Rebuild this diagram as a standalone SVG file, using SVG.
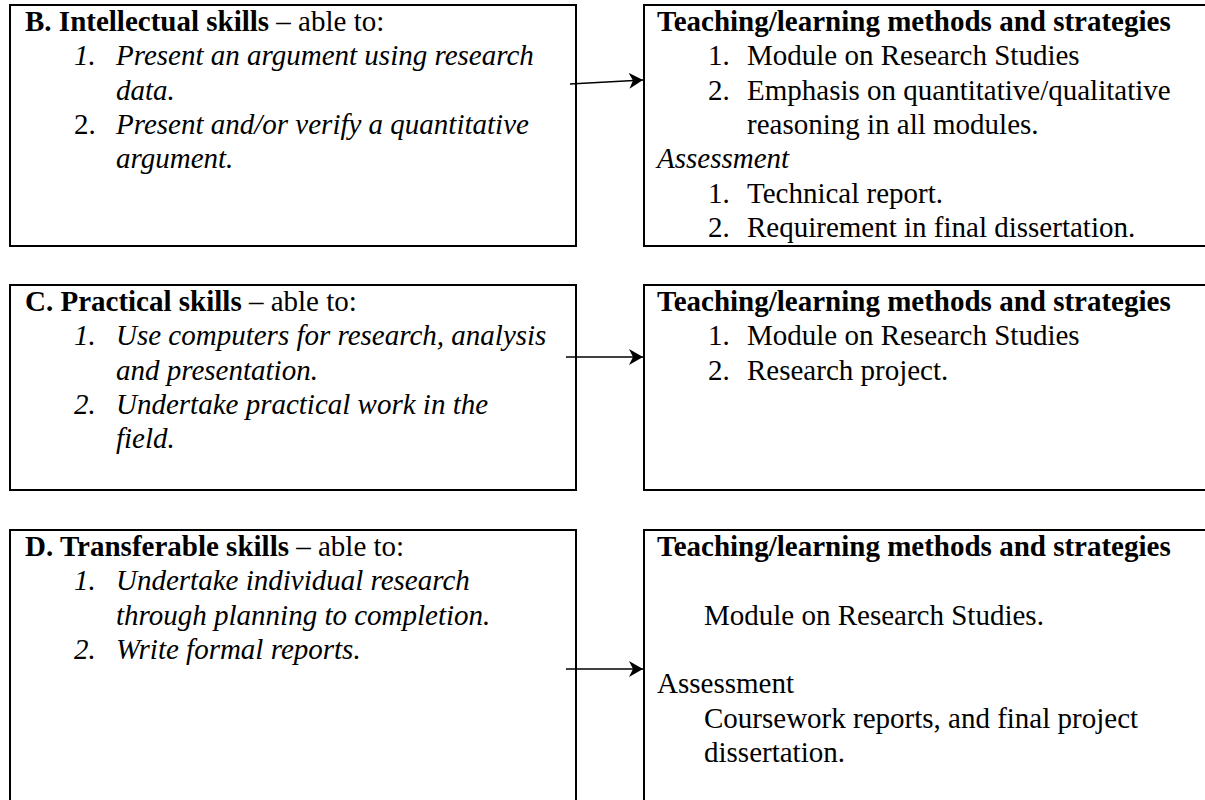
<svg xmlns="http://www.w3.org/2000/svg" width="1205" height="800" viewBox="0 0 1205 800">
<style>
  .box { fill: #ffffff; stroke: #000000; stroke-width: 2; }
  text { font-family: "Liberation Serif", "Times New Roman", serif; font-size: 29px; fill: #000000; }
  .b { font-weight: bold; }
  .i { font-style: italic; }
  .conn { stroke: #000000; stroke-width: 1.6; fill: none; }
</style>
<defs>
  <marker id="arrow" viewBox="0 0 14 16" refX="14" refY="8" markerWidth="14" markerHeight="16" markerUnits="userSpaceOnUse" orient="auto">
    <path d="M0,0 L14,8 L0,16 L4,8 Z" fill="#000000"/>
  </marker>
</defs>
<rect width="1205" height="800" fill="#ffffff"/>

<g id="nodeB">
  <rect class="box" x="10" y="5" width="566" height="241"/>
  <text x="25" y="31"><tspan class="b">B. Intellectual skills</tspan> – able to:</text>
  <text x="74" y="65.3" class="i">1.</text>
  <text x="116" y="65.3" class="i">Present an argument using research</text>
  <text x="116" y="99.6" class="i">data.</text>
  <text x="74" y="133.9">2.</text>
  <text x="116" y="133.9" class="i">Present and/or verify a quantitative</text>
  <text x="116" y="168.2" class="i">argument.</text>
</g>

<g id="nodeB2">
  <rect class="box" x="644" y="5" width="580" height="241"/>
  <text x="657" y="31" class="b">Teaching/learning methods and strategies</text>
  <text x="708" y="65.3">1.</text>
  <text x="747" y="65.3">Module on Research Studies</text>
  <text x="708" y="99.6">2.</text>
  <text x="747" y="99.6">Emphasis on quantitative/qualitative</text>
  <text x="747" y="133.9">reasoning in all modules.</text>
  <text x="657" y="168.2" class="i">Assessment</text>
  <text x="708" y="202.5">1.</text>
  <text x="747" y="202.5">Technical report.</text>
  <text x="708" y="236.8">2.</text>
  <text x="747" y="236.8">Requirement in final dissertation.</text>
</g>

<g id="nodeC">
  <rect class="box" x="10" y="285" width="566" height="205"/>
  <text x="25" y="311"><tspan class="b">C. Practical skills</tspan> – able to:</text>
  <text x="74" y="345.3" class="i">1.</text>
  <text x="116" y="345.3" class="i">Use computers for research, analysis</text>
  <text x="116" y="379.6" class="i">and presentation.</text>
  <text x="74" y="413.9" class="i">2.</text>
  <text x="116" y="413.9" class="i">Undertake practical work in the</text>
  <text x="116" y="448.2" class="i">field.</text>
</g>

<g id="nodeC2">
  <rect class="box" x="644" y="285" width="580" height="205"/>
  <text x="657" y="311" class="b">Teaching/learning methods and strategies</text>
  <text x="708" y="345.3">1.</text>
  <text x="747" y="345.3">Module on Research Studies</text>
  <text x="708" y="379.6">2.</text>
  <text x="747" y="379.6">Research project.</text>
</g>

<g id="nodeD">
  <rect class="box" x="10" y="530" width="566" height="290"/>
  <text x="25" y="556"><tspan class="b">D. Transferable skills</tspan> – able to:</text>
  <text x="74" y="590.3" class="i">1.</text>
  <text x="116" y="590.3" class="i">Undertake individual research</text>
  <text x="116" y="624.6" class="i">through planning to completion.</text>
  <text x="74" y="658.9" class="i">2.</text>
  <text x="116" y="658.9" class="i">Write formal reports.</text>
</g>

<g id="nodeD2">
  <rect class="box" x="644" y="530" width="580" height="290"/>
  <text x="657" y="556" class="b">Teaching/learning methods and strategies</text>
  <text x="704" y="624.6">Module on Research Studies.</text>
  <text x="657" y="693.2">Assessment</text>
  <text x="704" y="727.5">Coursework reports, and final project</text>
  <text x="704" y="761.8">dissertation.</text>
</g>

<g id="connectors">
  <line class="conn" x1="570" y1="84" x2="643" y2="80" marker-end="url(#arrow)"/>
  <line class="conn" x1="566" y1="357" x2="643" y2="357" marker-end="url(#arrow)"/>
  <line class="conn" x1="566" y1="669" x2="643" y2="669" marker-end="url(#arrow)"/>
</g>
</svg>
